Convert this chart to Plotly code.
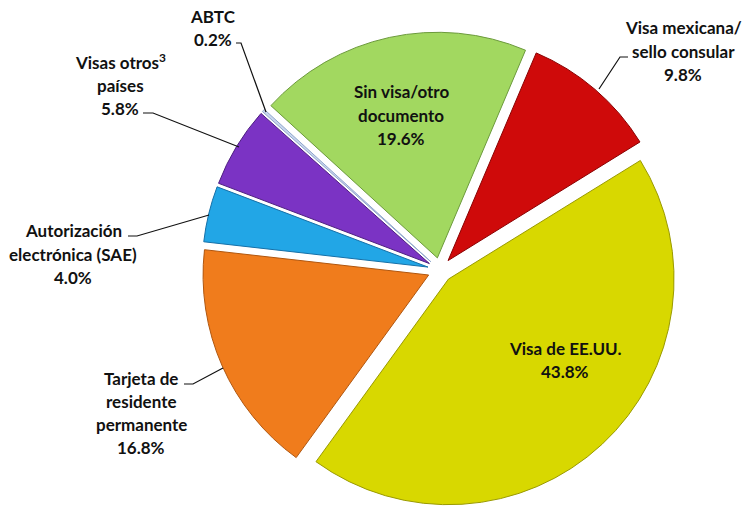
import plotly.graph_objects as go

# ---- data ----
categories = [
    "Visa mexicana/<br>sello consular",
    "Visa de EE.UU.",
    "Tarjeta de<br>residente<br>permanente",
    "Autorización<br>electrónica (SAE)",
    "Visas otros<sup>3</sup><br>países",
    "ABTC",
    "Sin visa/otro<br>documento",
]
shares = [9.8, 43.8, 16.8, 4.0, 5.8, 0.2, 19.6]

# ---- styling ----
W, H = 748, 508
colors = ["#cf0a0a", "#d8d800", "#f07c1c", "#22a6e6", "#7b33c4", "#c9d6ee", "#a2d860"]
edge = ["#8a0000", "#9a9a00", "#b0560e", "#1570a8", "#4e1f80", "#8fa6cc", "#6c9a3c"]

# label block centres (px) and leader-line paths (px)
label_pos = [(683, 51), (565, 360), (141, 413), (73, 254), (120, 85), (213, 28), (401, 115)]
leaders = [
    [(599, 89), (620, 57), (628, 57)],
    None,
    [(223, 368), (193, 384), (184, 384)],
    [(209, 215), (137, 236), (128, 236)],
    [(239, 147), (153, 113), (143, 113)],
    [(266, 112), (241, 43), (236, 43)],
    None,
]
LINE_H = 23.3

def px(x, y):
    return x / W, 1 - y / H

cx, cy, half = 440, 270, 238
fig = go.Figure(go.Pie(
    labels=categories,
    values=shares,
    sort=False,
    direction="clockwise",
    rotation=23,
    pull=[0.055] * len(shares),
    marker=dict(colors=colors, line=dict(color=edge, width=1)),
    textinfo="none",
    hoverinfo="label+percent",
    domain=dict(x=[(cx - half) / W, (cx + half) / W],
                y=[max(0, (H - cy - half) / H), min(1, (H - cy + half) / H)]),
    showlegend=False,
))

annotations = []
shapes = []
for i, (lab, v) in enumerate(zip(categories, shares)):
    lines = lab.split("<br>") + [f"{v:.1f}%"]
    x0, yc = label_pos[i]
    n = len(lines)
    for k, t in enumerate(lines):
        yy = yc + (k - (n - 1) / 2) * LINE_H
        xp, yp = px(x0, yy)
        annotations.append(dict(
            x=xp, y=yp, xref="paper", yref="paper", text=t,
            showarrow=False, xanchor="center", yanchor="middle",
            font=dict(family="Lato", size=17, color="#111111", weight="bold"),
        ))
    if leaders[i]:
        pts = [px(a, b) for a, b in leaders[i]]
        path = "M " + " L ".join(f"{a},{b}" for a, b in pts)
        shapes.append(dict(type="path", path=path, xref="paper", yref="paper",
                           line=dict(color="#111111", width=1.2)))

fig.update_layout(
    width=W, height=H,
    margin=dict(l=0, r=0, t=0, b=0),
    paper_bgcolor="white", plot_bgcolor="white",
    annotations=annotations, shapes=shapes,
)
fig.write_html(
    "out.html",
    config={"displayModeBar": False},
    post_script="document.body.style.margin='0';document.body.style.overflow='hidden';",
)
